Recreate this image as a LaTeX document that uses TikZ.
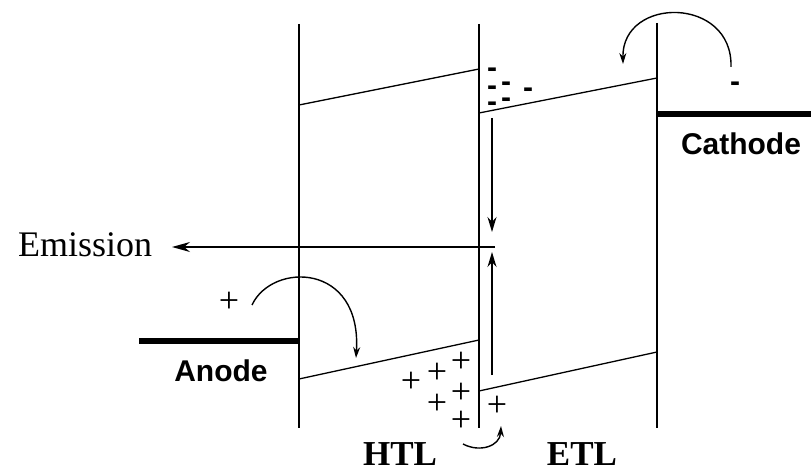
\documentclass[tikz,border=0pt]{standalone}
\usepackage{fontspec}
\setmainfont{Liberation Serif}
\newfontfamily\arialfont{Liberation Sans}
\usetikzlibrary{arrows.meta}
\begin{document}
\begin{tikzpicture}[x=1pt,y=-1pt,
  wall/.style={line width=1.5pt},
  band/.style={line width=1.3pt},
  electrode/.style={line width=6.5pt},
  arr/.style={line width=1.4pt,-{Stealth[length=15pt,width=9pt]}},
  curvearr/.style={line width=1.4pt,-{Stealth[length=11pt,width=7pt]}},
  hole/.style={inner sep=0pt,font=\fontsize{36}{36}\selectfont},
  minus/.style={inner sep=0pt,anchor=base,font=\arialfont\bfseries\fontsize{30}{30}\selectfont},
  elec/.style={inner sep=0pt,anchor=base,font=\arialfont\bfseries\fontsize{30}{30}\selectfont},
  layerlbl/.style={inner sep=0pt,anchor=base,font=\bfseries\fontsize{35}{35}\selectfont},
]
\useasboundingbox (0,0) rectangle (811,470);
% walls
\coordinate (L1t) at (299,24);  \coordinate (L1b) at (299,428);
\coordinate (L2t) at (479,24);  \coordinate (L2b) at (479,428);
\coordinate (L3t) at (657,23);  \coordinate (L3b) at (657,428);
\draw[wall] (L1t) -- (L1b);
\draw[wall] (L2t) -- (L2b);
\draw[wall] (L3t) -- (L3b);
% bands
\coordinate (hl1) at (299,105); \coordinate (hl2) at (479,69);
\coordinate (hh1) at (299,379); \coordinate (hh2) at (479,340);
\coordinate (el1) at (479,113); \coordinate (el2) at (657,78);
\coordinate (eh1) at (479,391); \coordinate (eh2) at (657,352);
\draw[band] (hl1) -- (hl2);
\draw[band] (hh1) -- (hh2);
\draw[band] (el1) -- (el2);
\draw[band] (eh1) -- (eh2);
% electrodes
\coordinate (ca1) at (657,114); \coordinate (ca2) at (811,114);
\coordinate (an1) at (139,341); \coordinate (an2) at (299,341);
\draw[electrode] (ca1) -- (ca2);
\draw[electrode] (an1) -- (an2);
% emission and recombination arrows
\coordinate (em1) at (495,247); \coordinate (em2) at (172,247);
\draw[line width=1.4pt,-{Stealth[length=18pt,width=10pt]}] (em1) -- (em2);
\coordinate (d1) at (492,118); \coordinate (d2) at (492,232);
\coordinate (u1) at (492,375); \coordinate (u2) at (492,252);
\draw[arr] (d1) -- (d2);
\draw[arr] (u1) -- (u2);
% injection curves
\coordinate (ac1) at (252,305); \coordinate (ac2) at (356,358);
\draw[curvearr] (ac1) .. controls (272,262) and (362,262) .. (ac2);
\coordinate (cc1) at (731,67); \coordinate (cc2) at (623,64);
\draw[curvearr] (cc1) .. controls (733,-4) and (622,-4) .. (cc2);
\coordinate (hc1) at (463,444); \coordinate (hc2) at (501,426);
\draw[curvearr] (hc1) .. controls (480,453) and (500,446) .. (hc2);
% electrons
\node[minus] (m1) at (492,77.5) {-};
\node[minus] (m2) at (492,95.5) {-};
\node[minus] (m3) at (506,91.5) {-};
\node[minus] (m4) at (528,97.5) {-};
\node[minus] (m5) at (492,111.5) {-};
\node[minus] (m6) at (506,107.5) {-};
\node[minus] (m7) at (735,91.5) {-};
% holes
\node[hole] (p0) at (229,302) {+};
\node[hole] (p1) at (411,382) {+};
\node[hole] (p2) at (437,373) {+};
\node[hole] (p3) at (461,362) {+};
\node[hole] (p4) at (461,393) {+};
\node[hole] (p5) at (437,404) {+};
\node[hole] (p6) at (461,421) {+};
\node[hole] (p7) at (497,406) {+};
% labels
\node[inner sep=0pt,anchor=base west,font=\fontsize{36}{36}\selectfont] (emis) at (18,257) {Emission};
\node[elec] (anode) at (221,381) {Anode};
\node[elec] (cathode) at (741,155) {Cathode};
\node[layerlbl] (htl) at (400,465) {HTL};
\node[layerlbl] (etl) at (582,465) {ETL};
\end{tikzpicture}
\end{document}
